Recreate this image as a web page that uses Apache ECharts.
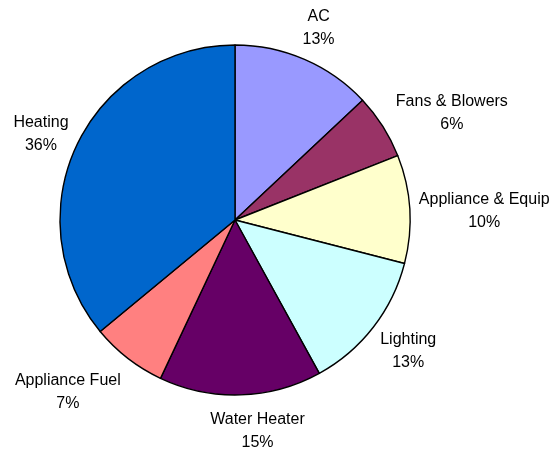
<!DOCTYPE html>
<html>
<head>
<meta charset="utf-8">
<script src="https://cdn.jsdelivr.net/npm/echarts@6/dist/echarts.min.js"></script>
<style>
  html, body { margin: 0; padding: 0; background: #fff; }
  #chart { width: 558px; height: 449px; }
</style>
</head>
<body>
<div id="chart"></div>
<script>
// 数据
var categories = ['AC', 'Fans & Blowers', 'Appliance & Equip', 'Lighting', 'Water Heater', 'Appliance Fuel', 'Heating'];
var shares = [13, 6, 10, 13, 15, 7, 36];
var sliceColors = ['#9999FF', '#993366', '#FFFFCC', '#CCFFFF', '#660066', '#FF8080', '#0066CC'];

var cx = 235, cy = 220, R = 175, gap = 8;
// 标签微调（像素，与 Excel 的摆放对齐）
var labelNudge = [[0, 1], [12, 23], [0, 7], [0, -3], [16, 4], [-24, -12], [3, 7]];
var total = shares.reduce(function (a, b) { return a + b; }, 0);

// 每块扇形中线的角度（从正上方顺时针）
function midAngle(i) {
    var before = 0;
    for (var k = 0; k < i; k++) before += shares[k];
    return (before + shares[i] / 2) / total * Math.PI * 2;
}

var myChart = echarts.init(document.getElementById('chart'));
var option = {
    animation: false,
    color: sliceColors,
    series: [{
        type: 'pie',
        center: [cx, cy],
        radius: R,
        startAngle: 90,
        clockwise: true,
        avoidLabelOverlap: false,
        data: categories.map(function (name, i) {
            return { name: name, value: shares[i] };
        }),
        itemStyle: {
            borderColor: '#000',
            borderWidth: 1.4
        },
        label: {
            show: true,
            position: 'outside',
            formatter: function (p) { return p.name + '\n' + Math.round(p.percent) + '%'; },
            fontFamily: 'Liberation Sans, Arial, sans-serif',
            fontSize: 16,
            lineHeight: 23,
            color: '#000',
            align: 'center',
            overflow: 'none',
            edgeDistance: 0,
            bleedMargin: 0
        },
        labelLine: { show: false },
        labelLayout: function (params) {
            var i = params.dataIndex;
            var a = midAngle(i);
            var sx = Math.sin(a), sy = -Math.cos(a);
            var w = params.labelRect.width, h = params.labelRect.height;
            var d = R + gap + w / 2 * Math.abs(sx) + h / 2 * Math.abs(sy);
            return {
                x: cx + d * sx + labelNudge[i][0],
                y: cy + d * sy + labelNudge[i][1],
                align: 'center',
                verticalAlign: 'middle'
            };
        },
        emphasis: { disabled: true }
    }]
};
myChart.setOption(option);
window.addEventListener('resize', function () { myChart.resize(); });
</script>
</body>
</html>
